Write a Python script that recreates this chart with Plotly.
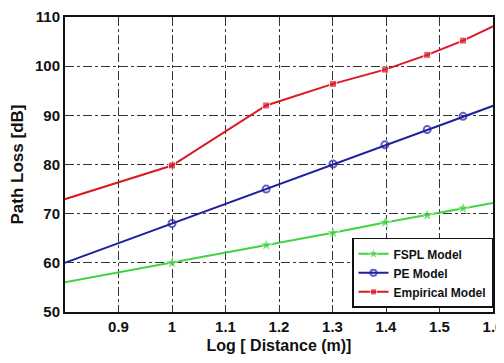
import plotly.graph_objects as go

# distances (m) and log10 of them
log_distance = [0.699, 1.0, 1.176, 1.301, 1.398, 1.477, 1.544, 1.602]
fspl_model = [54.0, 60.0, 63.6, 66.1, 68.2, 69.7, 71.1, 72.2]
pe_model = [56.0, 68.0, 75.0, 80.1, 84.0, 87.1, 89.8, 92.0]
empirical_model = [69.5, 79.8, 92.0, 96.4, 99.3, 102.3, 105.2, 108.2]

x_ticks = [0.9, 1.0, 1.1, 1.2, 1.3, 1.4, 1.5, 1.6]
x_tick_text = ["0.9", "1", "1.1", "1.2", "1.3", "1.4", "1.5", "1.6"]
y_ticks = [50, 60, 70, 80, 90, 100, 110]

# last point lies just past the axis end; its marker is clipped in the original
n = len(log_distance)
sizes_star = [10] * (n - 1) + [0]
sizes_other = [7] * (n - 1) + [0]

tick_font = dict(family="Liberation Sans, Arial", size=15, color="#111", weight="bold")

fig = go.Figure()
fig.add_trace(go.Scatter(x=log_distance, y=fspl_model, name="FSPL Model",
                         mode="lines+markers",
                         line=dict(color="#3fd43f", width=2),
                         marker=dict(symbol="star", size=sizes_star, color="#3fd43f")))
fig.add_trace(go.Scatter(x=log_distance, y=pe_model, name="PE Model",
                         mode="lines+markers",
                         line=dict(color="#1f1fa0", width=2),
                         marker=dict(symbol="circle-open", size=sizes_other, color="#1f1fa0",
                                     line=dict(width=2, color="#1f1fa0"))))
fig.add_trace(go.Scatter(x=log_distance, y=empirical_model, name="Empirical Model",
                         mode="lines+markers",
                         line=dict(color="#dc1824", width=2),
                         marker=dict(symbol="square", size=sizes_other, color="#dc1824")))

# the page body adds an 8px offset, so the figure is sized/margined to compensate
fig.update_layout(
    width=496, height=355,
    margin=dict(l=57, r=11, t=9, b=51),
    paper_bgcolor="white", plot_bgcolor="white",
    showlegend=True,
    legend=dict(x=1, y=0.014, xanchor="right", yanchor="bottom",
                bgcolor="white", bordercolor="#111", borderwidth=1.5,
                font=dict(family="Liberation Sans, Arial", size=12, color="#111", weight="bold"),
                tracegroupgap=0, itemwidth=30),
)
fig.update_xaxes(range=[0.8, 1.6], tickvals=x_ticks, ticktext=x_tick_text,
                 tickfont=tick_font, showline=True, linecolor="#111", linewidth=2,
                 mirror=True, showgrid=True, gridcolor="#333", gridwidth=1,
                 griddash="dashdot", zeroline=False, ticks="", automargin=False,
                 title=dict(text="Log [ Distance (m)]",
                            font=dict(family="Liberation Sans, Arial", size=16, color="#111", weight="bold"),
                            standoff=6))
fig.update_yaxes(range=[50, 110], tickvals=y_ticks,
                 tickfont=tick_font, showline=True, linecolor="#111", linewidth=2,
                 mirror=True, showgrid=True, gridcolor="#333", gridwidth=1,
                 griddash="dashdot", zeroline=False, ticks="", automargin=False,
                 title=dict(text="Path Loss [dB]",
                            font=dict(family="Liberation Sans, Arial", size=17, color="#111", weight="bold"),
                            standoff=12))

fig.write_html("out.html")
